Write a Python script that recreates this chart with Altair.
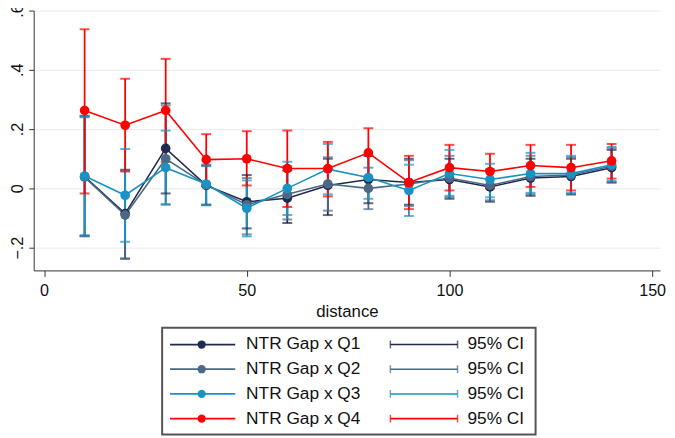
import altair as alt
import pandas as pd

# ---- data ----
distance = [10, 20, 30, 40, 50, 60, 70, 80, 90, 100, 110, 120, 130, 140]
series = ["NTR Gap x Q1", "NTR Gap x Q2", "NTR Gap x Q3", "NTR Gap x Q4"]
colors = ["#1e2b4e", "#4b6985", "#1a92c4", "#ff0000"]
ci_label = "95% CI"

q1_coef = [0.040, -0.085, 0.135, 0.010, -0.045, -0.033, 0.010, 0.030, 0.020, 0.030, 0.005, 0.035, 0.040, 0.070]
q1_lo = [-0.160, -0.237, -0.017, -0.055, -0.135, -0.117, -0.090, -0.050, -0.055, -0.035, -0.045, -0.025, -0.020, 0.020]
q1_hi = [0.245, 0.063, 0.287, 0.077, 0.045, 0.060, 0.100, 0.110, 0.100, 0.100, 0.060, 0.100, 0.100, 0.130]

q2_coef = [0.038, -0.090, 0.100, 0.012, -0.055, -0.020, 0.015, 0.000, 0.015, 0.035, 0.010, 0.040, 0.045, 0.075]
q2_lo = [-0.162, -0.237, -0.055, -0.057, -0.155, -0.105, -0.075, -0.070, -0.060, -0.030, -0.040, -0.020, -0.020, 0.020]
q2_hi = [0.240, 0.060, 0.280, 0.080, 0.035, 0.075, 0.105, 0.070, 0.095, 0.110, 0.065, 0.110, 0.105, 0.135]

q3_coef = [0.042, -0.023, 0.070, 0.015, -0.067, 0.000, 0.065, 0.037, -0.007, 0.050, 0.030, 0.050, 0.050, 0.080]
q3_lo = [-0.158, -0.180, -0.053, -0.055, -0.162, -0.090, -0.020, -0.035, -0.093, -0.025, -0.030, -0.015, -0.015, 0.025]
q3_hi = [0.243, 0.133, 0.195, 0.075, 0.027, 0.090, 0.150, 0.110, 0.080, 0.130, 0.083, 0.120, 0.110, 0.140]

q4_coef = [0.263, 0.213, 0.263, 0.097, 0.100, 0.067, 0.067, 0.120, 0.020, 0.070, 0.057, 0.077, 0.070, 0.093]
q4_lo = [-0.017, 0.057, 0.090, 0.007, 0.010, -0.063, -0.027, 0.040, -0.070, -0.007, 0.000, 0.005, -0.007, 0.033]
q4_hi = [0.537, 0.370, 0.437, 0.183, 0.193, 0.195, 0.157, 0.203, 0.110, 0.147, 0.117, 0.147, 0.147, 0.150]

y_ticks = [-0.2, 0, 0.2, 0.4, 0.6]
x_ticks = [0, 50, 100, 150]

# ---- tables ----
coefs = [q1_coef, q2_coef, q3_coef, q4_coef]
los = [q1_lo, q2_lo, q3_lo, q4_lo]
his = [q1_hi, q2_hi, q3_hi, q4_hi]
rows = []
for s, c, lo, hi in zip(series, coefs, los, his):
    for d, cv, lv, hv in zip(distance, c, lo, hi):
        rows.append({"series": s, "distance": d, "coef": cv, "lo": lv, "hi": hv})
df = pd.DataFrame(rows)

# legend layout (pixel positions relative to plot origin)
LEG_Y0, LEG_DY = 338, 25
leg = pd.DataFrame({
    "series": series,
    "ci": [ci_label] * len(series),
    "ly": [LEG_Y0 + LEG_DY * i for i in range(len(series))],
})
box = pd.DataFrame({"k": [0]})

FONT = "Liberation Sans"
W, H = 634, 263
color = alt.Color("series:N", scale=alt.Scale(domain=series, range=colors), legend=None)
xs = alt.Scale(domain=[-2.56, 151.96], nice=False, zero=False)
ys = alt.Scale(domain=[-0.2767, 0.6], nice=False, zero=False)

x_enc = alt.X("distance:Q", scale=xs, axis=alt.Axis(
    values=x_ticks, grid=False, tickSize=6, labelPadding=6, labelFontSize=16.3,
    labelFlush=False, title="distance", titleFontSize=17, titleFontWeight="normal",
    titlePadding=5, domainColor="#333", tickColor="#333", labelColor="#111", titleColor="#111",
    labelFont=FONT, titleFont=FONT))

base = alt.Chart(df)

rules = base.mark_rule(strokeWidth=1.8).encode(
    x=x_enc,
    y=alt.Y("lo:Q", scale=ys, axis=alt.Axis(
        values=y_ticks, labelAngle=-90, grid=True, gridColor="#eaeaea", gridWidth=1,
        tickSize=5, labelPadding=3, labelFontSize=16.3, labelFlush=False, labelOverlap=False,
        labelExpr="replace(format(datum.value, '.1~f'), '0.', '.')",
        title=None, domainColor="#333", tickColor="#333", labelColor="#111", labelFont=FONT)),
    y2="hi:Q",
    color=color,
)

caps = base.transform_fold(["lo", "hi"], as_=["end", "val"]).mark_tick(
    orient="horizontal", size=10, thickness=2).encode(
    x=alt.X("distance:Q", scale=xs),
    y=alt.Y("val:Q", scale=ys),
    color=color,
)

lines = base.mark_line(strokeWidth=1.6).encode(
    x=alt.X("distance:Q", scale=xs),
    y=alt.Y("coef:Q", scale=ys),
    color=color,
    detail="series:N",
)

points = base.mark_point(filled=True, size=95, opacity=1).encode(
    x=alt.X("distance:Q", scale=xs),
    y=alt.Y("coef:Q", scale=ys),
    color=color,
)

# ---- custom legend ----
legbox = alt.Chart(box).mark_rect(fill="white", stroke="#555", strokeWidth=2).encode(
    x=alt.value(130), x2=alt.value(508), y=alt.value(321), y2=alt.value(429))

lb = alt.Chart(leg)
leg_line = lb.mark_rule(strokeWidth=1.8).encode(
    x=alt.value(138), x2=alt.value(204), y=alt.Y("ly:Q", scale=None), color=color)
leg_pt = lb.mark_point(filled=True, size=70, opacity=1).encode(
    x=alt.value(170), y=alt.Y("ly:Q", scale=None), color=color)
leg_txt = lb.mark_text(align="left", baseline="middle", fontSize=17.5, font=FONT, color="#111").encode(
    x=alt.value(215), y=alt.Y("ly:Q", scale=None), text="series:N")
leg_ci = lb.mark_rule(strokeWidth=1.6).encode(
    x=alt.value(361), x2=alt.value(429), y=alt.Y("ly:Q", scale=None), color=color)
leg_capl = lb.mark_tick(orient="vertical", size=8, thickness=1.5).encode(
    x=alt.value(361), y=alt.Y("ly:Q", scale=None), color=color)
leg_capr = lb.mark_tick(orient="vertical", size=8, thickness=1.5).encode(
    x=alt.value(429), y=alt.Y("ly:Q", scale=None), color=color)
leg_citxt = lb.mark_text(align="left", baseline="middle", fontSize=17.5, font=FONT, color="#111").encode(
    x=alt.value(439), y=alt.Y("ly:Q", scale=None), text="ci:N")

chart = alt.layer(
    rules, caps, lines, points,
    legbox, leg_line, leg_pt, leg_txt, leg_ci, leg_capl, leg_capr, leg_citxt,
).properties(
    width=W, height=H,
    autosize=alt.AutoSizeParams(type="none"),
    padding={"left": 26, "top": 0, "right": 7, "bottom": 166},
    background="white",
).configure_view(stroke=None)

chart.save("out.html", embed_options={"renderer": "svg", "actions": False})
